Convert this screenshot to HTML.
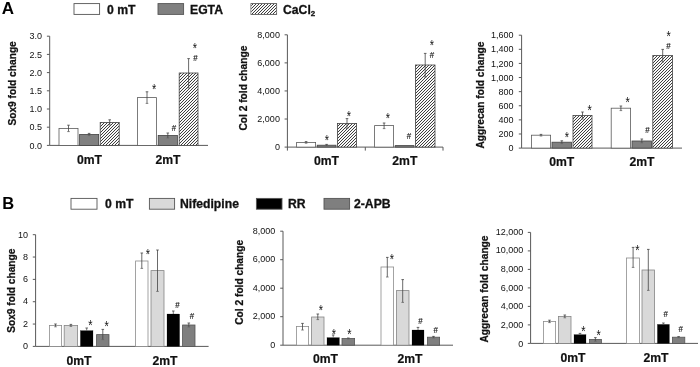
<!DOCTYPE html>
<html><head><meta charset="utf-8"><title>Figure</title>
<style>html,body{margin:0;padding:0;background:#fff}svg{display:block;opacity:0.999;will-change:transform}text{font-family:'Liberation Sans', Arial, sans-serif}</style>
</head><body>
<svg width="700" height="367" viewBox="0 0 700 367">
<defs><pattern id="hatch" x="0" y="0" width="3" height="3" patternUnits="userSpaceOnUse"><rect width="3" height="3" fill="#f8f8f8"/><rect x="1" y="0" width="1" height="1" fill="#3e3e3e"/><rect x="0" y="1" width="1" height="1" fill="#3e3e3e"/><rect x="2" y="2" width="1" height="1" fill="#3e3e3e"/></pattern></defs>
<rect width="700" height="367" fill="#fff"/>
<text x="1.8" y="14" font-size="17" font-weight="bold" fill="#000">A</text>
<text x="2.2" y="209" font-size="16.5" font-weight="bold" fill="#000">B</text>
<rect x="74" y="3.6" width="25.60" height="10.80" fill="#ffffff" stroke="#555" stroke-width="0.9"/>
<text x="107.00" y="13.60" font-size="12.2" font-weight="bold" stroke="#111" stroke-width="0.3" text-anchor="start" fill="#111">0 mT</text>
<rect x="158" y="3.6" width="25.60" height="10.80" fill="#808080" stroke="#555" stroke-width="0.9"/>
<text x="190.00" y="13.60" font-size="12.2" font-weight="bold" stroke="#111" stroke-width="0.3" text-anchor="start" fill="#111">EGTA</text>
<rect x="251" y="3.6" width="25.60" height="10.80" fill="#ffffff" stroke="#555" stroke-width="0.9"/>
<rect x="251.40" y="4.00" width="24.80" height="10.00" fill="url(#hatch)"/>
<text x="283" y="13.6" font-size="12.2" font-weight="bold" stroke="#111" stroke-width="0.3" fill="#111">CaCl<tspan font-size="8" dy="2.6">2</tspan></text>
<rect x="71" y="198.4" width="26.00" height="10.80" fill="#ffffff" stroke="#555" stroke-width="0.9"/>
<text x="105.00" y="208.40" font-size="12.2" font-weight="bold" stroke="#111" stroke-width="0.3" text-anchor="start" fill="#111">0 mT</text>
<rect x="149.4" y="198.4" width="25.20" height="10.80" fill="#d9d9d9" stroke="#555" stroke-width="0.9"/>
<text x="180.00" y="208.40" font-size="12.2" font-weight="bold" stroke="#111" stroke-width="0.3" text-anchor="start" fill="#111">Nifedipine</text>
<rect x="256.4" y="198.4" width="25.60" height="10.80" fill="#000000" stroke="#555" stroke-width="0.9"/>
<text x="288.00" y="208.40" font-size="12.2" font-weight="bold" stroke="#111" stroke-width="0.3" text-anchor="start" fill="#111">RR</text>
<rect x="324" y="198.4" width="25.60" height="10.80" fill="#7f7f7f" stroke="#555" stroke-width="0.9"/>
<text x="354.00" y="208.40" font-size="12.2" font-weight="bold" stroke="#111" stroke-width="0.3" text-anchor="start" fill="#111">2-APB</text>
<line x1="49.70" y1="36.20" x2="49.70" y2="145.40" stroke="#595959" stroke-width="1.0"/>
<line x1="49.70" y1="145.40" x2="208.00" y2="145.40" stroke="#595959" stroke-width="1.0"/>
<line x1="46.90" y1="145.40" x2="49.70" y2="145.40" stroke="#595959" stroke-width="1.0"/>
<text x="41.90" y="148.55" font-size="9.0" text-anchor="end" fill="#111">0.0</text>
<line x1="46.90" y1="127.20" x2="49.70" y2="127.20" stroke="#595959" stroke-width="1.0"/>
<text x="41.90" y="130.35" font-size="9.0" text-anchor="end" fill="#111">0.5</text>
<line x1="46.90" y1="109.00" x2="49.70" y2="109.00" stroke="#595959" stroke-width="1.0"/>
<text x="41.90" y="112.15" font-size="9.0" text-anchor="end" fill="#111">1.0</text>
<line x1="46.90" y1="90.80" x2="49.70" y2="90.80" stroke="#595959" stroke-width="1.0"/>
<text x="41.90" y="93.95" font-size="9.0" text-anchor="end" fill="#111">1.5</text>
<line x1="46.90" y1="72.60" x2="49.70" y2="72.60" stroke="#595959" stroke-width="1.0"/>
<text x="41.90" y="75.75" font-size="9.0" text-anchor="end" fill="#111">2.0</text>
<line x1="46.90" y1="54.40" x2="49.70" y2="54.40" stroke="#595959" stroke-width="1.0"/>
<text x="41.90" y="57.55" font-size="9.0" text-anchor="end" fill="#111">2.5</text>
<line x1="46.90" y1="36.20" x2="49.70" y2="36.20" stroke="#595959" stroke-width="1.0"/>
<text x="41.90" y="39.35" font-size="9.0" text-anchor="end" fill="#111">3.0</text>
<text transform="translate(16.10,83.40) rotate(-90)" font-size="10.2" font-weight="bold" stroke="#111" stroke-width="0.25" text-anchor="middle" fill="#111">Sox9 fold change</text>
<rect x="59.00" y="128.40" width="19.00" height="17.00" fill="#ffffff" stroke="#5a5a5a" stroke-width="0.8"/>
<line x1="68.50" y1="125.20" x2="68.50" y2="131.60" stroke="#444" stroke-width="0.8"/>
<line x1="67.20" y1="125.20" x2="69.80" y2="125.20" stroke="#444" stroke-width="0.8"/>
<line x1="67.20" y1="131.60" x2="69.80" y2="131.60" stroke="#666" stroke-width="0.8"/>
<rect x="79.60" y="134.40" width="19.00" height="11.00" fill="#808080" stroke="#444" stroke-width="0.8"/>
<line x1="89.10" y1="133.40" x2="89.10" y2="135.60" stroke="#444" stroke-width="0.8"/>
<line x1="87.80" y1="133.40" x2="90.40" y2="133.40" stroke="#444" stroke-width="0.8"/>
<line x1="87.80" y1="135.60" x2="90.40" y2="135.60" stroke="#666" stroke-width="0.8"/>
<rect x="100.20" y="122.40" width="19.00" height="23.00" fill="#fff"/>
<rect x="100.20" y="122.40" width="19.00" height="23.00" fill="url(#hatch)"/>
<rect x="100.20" y="122.40" width="19.00" height="23.00" fill="none" stroke="#444" stroke-width="0.8"/>
<line x1="109.70" y1="119.80" x2="109.70" y2="125.00" stroke="#444" stroke-width="0.8"/>
<line x1="108.40" y1="119.80" x2="111.00" y2="119.80" stroke="#444" stroke-width="0.8"/>
<line x1="108.40" y1="125.00" x2="111.00" y2="125.00" stroke="#666" stroke-width="0.8"/>
<rect x="137.40" y="97.60" width="19.20" height="47.80" fill="#ffffff" stroke="#5a5a5a" stroke-width="0.8"/>
<line x1="147.00" y1="91.80" x2="147.00" y2="103.40" stroke="#444" stroke-width="0.8"/>
<line x1="145.70" y1="91.80" x2="148.30" y2="91.80" stroke="#444" stroke-width="0.8"/>
<line x1="145.70" y1="103.40" x2="148.30" y2="103.40" stroke="#666" stroke-width="0.8"/>
<rect x="158.20" y="135.40" width="19.20" height="10.00" fill="#808080" stroke="#444" stroke-width="0.8"/>
<line x1="167.80" y1="133.00" x2="167.80" y2="138.00" stroke="#444" stroke-width="0.8"/>
<line x1="166.50" y1="133.00" x2="169.10" y2="133.00" stroke="#444" stroke-width="0.8"/>
<line x1="166.50" y1="138.00" x2="169.10" y2="138.00" stroke="#666" stroke-width="0.8"/>
<rect x="179.20" y="73.00" width="18.80" height="72.40" fill="#fff"/>
<rect x="179.20" y="73.00" width="18.80" height="72.40" fill="url(#hatch)"/>
<rect x="179.20" y="73.00" width="18.80" height="72.40" fill="none" stroke="#444" stroke-width="0.8"/>
<line x1="188.60" y1="58.60" x2="188.60" y2="88.00" stroke="#444" stroke-width="0.8"/>
<line x1="187.30" y1="58.60" x2="189.90" y2="58.60" stroke="#444" stroke-width="0.8"/>
<line x1="187.30" y1="88.00" x2="189.90" y2="88.00" stroke="#666" stroke-width="0.8"/>
<text transform="translate(154.20,86.50) scale(1,1.25)" y="5.64" font-size="11" text-anchor="middle" fill="#111">*</text>
<text transform="translate(174.00,127.60) scale(0.9,1.12)" y="3.0" font-size="8.8" text-anchor="middle" fill="#111" stroke="#111" stroke-width="0.15">#</text>
<text transform="translate(195.00,45.50) scale(1,1.25)" y="5.64" font-size="11" text-anchor="middle" fill="#111">*</text>
<text transform="translate(195.50,57.40) scale(0.9,1.12)" y="3.0" font-size="8.8" text-anchor="middle" fill="#111" stroke="#111" stroke-width="0.15">#</text>
<text x="89.50" y="164.00" font-size="12.2" font-weight="bold" stroke="#111" stroke-width="0.2" text-anchor="middle" fill="#111">0mT</text>
<text x="168.00" y="164.00" font-size="12.2" font-weight="bold" stroke="#111" stroke-width="0.2" text-anchor="middle" fill="#111">2mT</text>
<line x1="287.40" y1="34.80" x2="287.40" y2="150.60" stroke="#595959" stroke-width="1.0"/>
<line x1="287.40" y1="147.10" x2="443.00" y2="147.10" stroke="#595959" stroke-width="1.0"/>
<line x1="284.60" y1="147.10" x2="287.40" y2="147.10" stroke="#595959" stroke-width="1.0"/>
<text x="279.90" y="150.25" font-size="9.0" text-anchor="end" fill="#111">0</text>
<line x1="284.60" y1="119.02" x2="287.40" y2="119.02" stroke="#595959" stroke-width="1.0"/>
<text x="279.90" y="122.17" font-size="9.0" text-anchor="end" fill="#111">2,000</text>
<line x1="284.60" y1="90.95" x2="287.40" y2="90.95" stroke="#595959" stroke-width="1.0"/>
<text x="279.90" y="94.10" font-size="9.0" text-anchor="end" fill="#111">4,000</text>
<line x1="284.60" y1="62.88" x2="287.40" y2="62.88" stroke="#595959" stroke-width="1.0"/>
<text x="279.90" y="66.03" font-size="9.0" text-anchor="end" fill="#111">6,000</text>
<line x1="284.60" y1="34.80" x2="287.40" y2="34.80" stroke="#595959" stroke-width="1.0"/>
<text x="279.90" y="37.95" font-size="9.0" text-anchor="end" fill="#111">8,000</text>
<line x1="365.30" y1="147.10" x2="365.30" y2="150.60" stroke="#595959" stroke-width="1.0"/>
<line x1="443.00" y1="147.10" x2="443.00" y2="150.60" stroke="#595959" stroke-width="1.0"/>
<text transform="translate(246.60,88.10) rotate(-90)" font-size="10.2" font-weight="bold" stroke="#111" stroke-width="0.25" text-anchor="middle" fill="#111">Col 2 fold change</text>
<rect x="296.60" y="142.40" width="19.00" height="4.70" fill="#ffffff" stroke="#5a5a5a" stroke-width="0.8"/>
<line x1="306.10" y1="141.60" x2="306.10" y2="143.20" stroke="#444" stroke-width="0.8"/>
<line x1="304.80" y1="141.60" x2="307.40" y2="141.60" stroke="#444" stroke-width="0.8"/>
<line x1="304.80" y1="143.20" x2="307.40" y2="143.20" stroke="#666" stroke-width="0.8"/>
<rect x="317.20" y="145.20" width="18.80" height="1.90" fill="#808080" stroke="#444" stroke-width="0.8"/>
<line x1="326.60" y1="144.40" x2="326.60" y2="146.00" stroke="#444" stroke-width="0.8"/>
<line x1="325.30" y1="144.40" x2="327.90" y2="144.40" stroke="#444" stroke-width="0.8"/>
<line x1="325.30" y1="146.00" x2="327.90" y2="146.00" stroke="#666" stroke-width="0.8"/>
<rect x="337.40" y="123.40" width="19.20" height="23.70" fill="#fff"/>
<rect x="337.40" y="123.40" width="19.20" height="23.70" fill="url(#hatch)"/>
<rect x="337.40" y="123.40" width="19.20" height="23.70" fill="none" stroke="#444" stroke-width="0.8"/>
<line x1="347.00" y1="118.60" x2="347.00" y2="128.40" stroke="#444" stroke-width="0.8"/>
<line x1="345.70" y1="118.60" x2="348.30" y2="118.60" stroke="#444" stroke-width="0.8"/>
<line x1="345.70" y1="128.40" x2="348.30" y2="128.40" stroke="#666" stroke-width="0.8"/>
<rect x="374.60" y="125.60" width="19.00" height="21.50" fill="#ffffff" stroke="#5a5a5a" stroke-width="0.8"/>
<line x1="384.10" y1="123.00" x2="384.10" y2="128.60" stroke="#444" stroke-width="0.8"/>
<line x1="382.80" y1="123.00" x2="385.40" y2="123.00" stroke="#444" stroke-width="0.8"/>
<line x1="382.80" y1="128.60" x2="385.40" y2="128.60" stroke="#666" stroke-width="0.8"/>
<rect x="395.20" y="145.60" width="18.80" height="1.50" fill="#808080" stroke="#444" stroke-width="0.8"/>
<rect x="415.40" y="65.00" width="19.60" height="82.10" fill="#fff"/>
<rect x="415.40" y="65.00" width="19.60" height="82.10" fill="url(#hatch)"/>
<rect x="415.40" y="65.00" width="19.60" height="82.10" fill="none" stroke="#444" stroke-width="0.8"/>
<line x1="425.20" y1="53.40" x2="425.20" y2="77.00" stroke="#444" stroke-width="0.8"/>
<line x1="423.90" y1="53.40" x2="426.50" y2="53.40" stroke="#444" stroke-width="0.8"/>
<line x1="423.90" y1="77.00" x2="426.50" y2="77.00" stroke="#666" stroke-width="0.8"/>
<text transform="translate(327.00,137.50) scale(1,1.25)" y="5.64" font-size="11" text-anchor="middle" fill="#111">*</text>
<text transform="translate(349.00,113.50) scale(1,1.25)" y="5.64" font-size="11" text-anchor="middle" fill="#111">*</text>
<text transform="translate(387.80,116.00) scale(1,1.25)" y="5.64" font-size="11" text-anchor="middle" fill="#111">*</text>
<text transform="translate(409.00,135.60) scale(0.9,1.12)" y="3.0" font-size="8.8" text-anchor="middle" fill="#111" stroke="#111" stroke-width="0.15">#</text>
<text transform="translate(431.80,42.80) scale(1,1.25)" y="5.64" font-size="11" text-anchor="middle" fill="#111">*</text>
<text transform="translate(432.00,54.40) scale(0.9,1.12)" y="3.0" font-size="8.8" text-anchor="middle" fill="#111" stroke="#111" stroke-width="0.15">#</text>
<text x="326.50" y="165.00" font-size="12.2" font-weight="bold" stroke="#111" stroke-width="0.2" text-anchor="middle" fill="#111">0mT</text>
<text x="404.80" y="165.00" font-size="12.2" font-weight="bold" stroke="#111" stroke-width="0.2" text-anchor="middle" fill="#111">2mT</text>
<line x1="521.60" y1="35.20" x2="521.60" y2="148.10" stroke="#595959" stroke-width="1.0"/>
<line x1="521.60" y1="148.10" x2="682.00" y2="148.10" stroke="#595959" stroke-width="1.0"/>
<line x1="518.80" y1="148.10" x2="521.60" y2="148.10" stroke="#595959" stroke-width="1.0"/>
<text x="513.50" y="151.25" font-size="9.0" text-anchor="end" fill="#111">0</text>
<line x1="518.80" y1="133.99" x2="521.60" y2="133.99" stroke="#595959" stroke-width="1.0"/>
<text x="513.50" y="137.14" font-size="9.0" text-anchor="end" fill="#111">200</text>
<line x1="518.80" y1="119.88" x2="521.60" y2="119.88" stroke="#595959" stroke-width="1.0"/>
<text x="513.50" y="123.03" font-size="9.0" text-anchor="end" fill="#111">400</text>
<line x1="518.80" y1="105.76" x2="521.60" y2="105.76" stroke="#595959" stroke-width="1.0"/>
<text x="513.50" y="108.91" font-size="9.0" text-anchor="end" fill="#111">600</text>
<line x1="518.80" y1="91.65" x2="521.60" y2="91.65" stroke="#595959" stroke-width="1.0"/>
<text x="513.50" y="94.80" font-size="9.0" text-anchor="end" fill="#111">800</text>
<line x1="518.80" y1="77.54" x2="521.60" y2="77.54" stroke="#595959" stroke-width="1.0"/>
<text x="513.50" y="80.69" font-size="9.0" text-anchor="end" fill="#111">1,000</text>
<line x1="518.80" y1="63.42" x2="521.60" y2="63.42" stroke="#595959" stroke-width="1.0"/>
<text x="513.50" y="66.58" font-size="9.0" text-anchor="end" fill="#111">1,200</text>
<line x1="518.80" y1="49.31" x2="521.60" y2="49.31" stroke="#595959" stroke-width="1.0"/>
<text x="513.50" y="52.46" font-size="9.0" text-anchor="end" fill="#111">1,400</text>
<line x1="518.80" y1="35.20" x2="521.60" y2="35.20" stroke="#595959" stroke-width="1.0"/>
<text x="513.50" y="38.35" font-size="9.0" text-anchor="end" fill="#111">1,600</text>
<text transform="translate(484.30,95.00) rotate(-90)" font-size="10.2" font-weight="bold" stroke="#111" stroke-width="0.25" text-anchor="middle" fill="#111">Aggrecan fold change</text>
<rect x="531.40" y="135.20" width="19.20" height="12.90" fill="#ffffff" stroke="#5a5a5a" stroke-width="0.8"/>
<line x1="541.00" y1="134.40" x2="541.00" y2="136.00" stroke="#444" stroke-width="0.8"/>
<line x1="539.70" y1="134.40" x2="542.30" y2="134.40" stroke="#444" stroke-width="0.8"/>
<line x1="539.70" y1="136.00" x2="542.30" y2="136.00" stroke="#666" stroke-width="0.8"/>
<rect x="552.00" y="142.20" width="19.60" height="5.90" fill="#808080" stroke="#444" stroke-width="0.8"/>
<line x1="561.80" y1="140.80" x2="561.80" y2="143.60" stroke="#444" stroke-width="0.8"/>
<line x1="560.50" y1="140.80" x2="563.10" y2="140.80" stroke="#444" stroke-width="0.8"/>
<line x1="560.50" y1="143.60" x2="563.10" y2="143.60" stroke="#666" stroke-width="0.8"/>
<rect x="573.00" y="115.40" width="19.00" height="32.70" fill="#fff"/>
<rect x="573.00" y="115.40" width="19.00" height="32.70" fill="url(#hatch)"/>
<rect x="573.00" y="115.40" width="19.00" height="32.70" fill="none" stroke="#444" stroke-width="0.8"/>
<line x1="582.50" y1="112.00" x2="582.50" y2="119.00" stroke="#444" stroke-width="0.8"/>
<line x1="581.20" y1="112.00" x2="583.80" y2="112.00" stroke="#444" stroke-width="0.8"/>
<line x1="581.20" y1="119.00" x2="583.80" y2="119.00" stroke="#666" stroke-width="0.8"/>
<rect x="611.20" y="108.20" width="19.40" height="39.90" fill="#ffffff" stroke="#5a5a5a" stroke-width="0.8"/>
<line x1="620.90" y1="106.00" x2="620.90" y2="110.60" stroke="#444" stroke-width="0.8"/>
<line x1="619.60" y1="106.00" x2="622.20" y2="106.00" stroke="#444" stroke-width="0.8"/>
<line x1="619.60" y1="110.60" x2="622.20" y2="110.60" stroke="#666" stroke-width="0.8"/>
<rect x="632.00" y="141.00" width="19.60" height="7.10" fill="#808080" stroke="#444" stroke-width="0.8"/>
<line x1="641.80" y1="139.00" x2="641.80" y2="142.80" stroke="#444" stroke-width="0.8"/>
<line x1="640.50" y1="139.00" x2="643.10" y2="139.00" stroke="#444" stroke-width="0.8"/>
<line x1="640.50" y1="142.80" x2="643.10" y2="142.80" stroke="#666" stroke-width="0.8"/>
<rect x="652.80" y="55.40" width="19.80" height="92.70" fill="#fff"/>
<rect x="652.80" y="55.40" width="19.80" height="92.70" fill="url(#hatch)"/>
<rect x="652.80" y="55.40" width="19.80" height="92.70" fill="none" stroke="#444" stroke-width="0.8"/>
<line x1="662.70" y1="49.40" x2="662.70" y2="62.00" stroke="#444" stroke-width="0.8"/>
<line x1="661.40" y1="49.40" x2="664.00" y2="49.40" stroke="#444" stroke-width="0.8"/>
<line x1="661.40" y1="62.00" x2="664.00" y2="62.00" stroke="#666" stroke-width="0.8"/>
<text transform="translate(567.00,135.00) scale(1,1.25)" y="5.64" font-size="11" text-anchor="middle" fill="#111">*</text>
<text transform="translate(589.60,108.00) scale(1,1.25)" y="5.64" font-size="11" text-anchor="middle" fill="#111">*</text>
<text transform="translate(627.60,100.40) scale(1,1.25)" y="5.64" font-size="11" text-anchor="middle" fill="#111">*</text>
<text transform="translate(647.50,130.10) scale(0.9,1.12)" y="3.0" font-size="8.8" text-anchor="middle" fill="#111" stroke="#111" stroke-width="0.15">#</text>
<text transform="translate(668.60,34.20) scale(1,1.25)" y="5.64" font-size="11" text-anchor="middle" fill="#111">*</text>
<text transform="translate(668.50,45.60) scale(0.9,1.12)" y="3.0" font-size="8.8" text-anchor="middle" fill="#111" stroke="#111" stroke-width="0.15">#</text>
<text x="561.70" y="166.00" font-size="12.2" font-weight="bold" stroke="#111" stroke-width="0.2" text-anchor="middle" fill="#111">0mT</text>
<text x="642.00" y="166.00" font-size="12.2" font-weight="bold" stroke="#111" stroke-width="0.2" text-anchor="middle" fill="#111">2mT</text>
<line x1="35.60" y1="234.70" x2="35.60" y2="346.40" stroke="#595959" stroke-width="1.0"/>
<line x1="35.60" y1="346.40" x2="208.60" y2="346.40" stroke="#595959" stroke-width="1.0"/>
<line x1="32.80" y1="346.40" x2="35.60" y2="346.40" stroke="#595959" stroke-width="1.0"/>
<text x="27.90" y="348.95" font-size="9.0" text-anchor="end" fill="#111">0</text>
<line x1="32.80" y1="324.06" x2="35.60" y2="324.06" stroke="#595959" stroke-width="1.0"/>
<text x="27.90" y="326.67" font-size="9.0" text-anchor="end" fill="#111">2</text>
<line x1="32.80" y1="301.72" x2="35.60" y2="301.72" stroke="#595959" stroke-width="1.0"/>
<text x="27.90" y="304.39" font-size="9.0" text-anchor="end" fill="#111">4</text>
<line x1="32.80" y1="279.38" x2="35.60" y2="279.38" stroke="#595959" stroke-width="1.0"/>
<text x="27.90" y="282.11" font-size="9.0" text-anchor="end" fill="#111">6</text>
<line x1="32.80" y1="257.04" x2="35.60" y2="257.04" stroke="#595959" stroke-width="1.0"/>
<text x="27.90" y="259.83" font-size="9.0" text-anchor="end" fill="#111">8</text>
<line x1="32.80" y1="234.70" x2="35.60" y2="234.70" stroke="#595959" stroke-width="1.0"/>
<text x="27.90" y="237.55" font-size="9.0" text-anchor="end" fill="#111">10</text>
<text transform="translate(14.60,290.70) rotate(-90)" font-size="10.2" font-weight="bold" stroke="#111" stroke-width="0.25" text-anchor="middle" fill="#111">Sox9 fold change</text>
<rect x="49.40" y="325.40" width="12.20" height="21.00" fill="#ffffff" stroke="#8c8c8c" stroke-width="0.8"/>
<line x1="55.50" y1="324.00" x2="55.50" y2="326.80" stroke="#444" stroke-width="0.8"/>
<line x1="54.20" y1="324.00" x2="56.80" y2="324.00" stroke="#444" stroke-width="0.8"/>
<line x1="54.20" y1="326.80" x2="56.80" y2="326.80" stroke="#666" stroke-width="0.8"/>
<rect x="64.20" y="325.40" width="13.40" height="21.00" fill="#d9d9d9" stroke="#858585" stroke-width="0.8"/>
<line x1="70.90" y1="324.40" x2="70.90" y2="326.40" stroke="#444" stroke-width="0.8"/>
<line x1="69.60" y1="324.40" x2="72.20" y2="324.40" stroke="#444" stroke-width="0.8"/>
<line x1="69.60" y1="326.40" x2="72.20" y2="326.40" stroke="#666" stroke-width="0.8"/>
<rect x="80.40" y="330.60" width="12.60" height="15.80" fill="#000000" stroke="#000" stroke-width="0.2"/>
<line x1="86.70" y1="328.00" x2="86.70" y2="330.60" stroke="#555" stroke-width="0.8"/>
<line x1="85.40" y1="328.00" x2="88.00" y2="328.00" stroke="#444" stroke-width="0.8"/>
<line x1="85.40" y1="333.00" x2="88.00" y2="333.00" stroke="#000" stroke-width="0.8"/>
<rect x="96.60" y="334.60" width="12.40" height="11.80" fill="#7f7f7f" stroke="#555" stroke-width="0.8"/>
<line x1="102.80" y1="329.40" x2="102.80" y2="339.60" stroke="#444" stroke-width="0.8"/>
<line x1="101.50" y1="329.40" x2="104.10" y2="329.40" stroke="#444" stroke-width="0.8"/>
<line x1="101.50" y1="339.60" x2="104.10" y2="339.60" stroke="#666" stroke-width="0.8"/>
<rect x="135.60" y="261.00" width="12.40" height="85.40" fill="#ffffff" stroke="#8c8c8c" stroke-width="0.8"/>
<line x1="141.80" y1="253.00" x2="141.80" y2="268.40" stroke="#444" stroke-width="0.8"/>
<line x1="140.50" y1="253.00" x2="143.10" y2="253.00" stroke="#444" stroke-width="0.8"/>
<line x1="140.50" y1="268.40" x2="143.10" y2="268.40" stroke="#666" stroke-width="0.8"/>
<rect x="151.00" y="270.60" width="13.00" height="75.80" fill="#d9d9d9" stroke="#858585" stroke-width="0.8"/>
<line x1="157.50" y1="250.00" x2="157.50" y2="291.40" stroke="#444" stroke-width="0.8"/>
<line x1="156.20" y1="250.00" x2="158.80" y2="250.00" stroke="#444" stroke-width="0.8"/>
<line x1="156.20" y1="291.40" x2="158.80" y2="291.40" stroke="#666" stroke-width="0.8"/>
<rect x="167.00" y="314.00" width="12.60" height="32.40" fill="#000000" stroke="#000" stroke-width="0.2"/>
<line x1="173.30" y1="311.00" x2="173.30" y2="314.00" stroke="#555" stroke-width="0.8"/>
<line x1="172.00" y1="311.00" x2="174.60" y2="311.00" stroke="#444" stroke-width="0.8"/>
<line x1="172.00" y1="317.00" x2="174.60" y2="317.00" stroke="#000" stroke-width="0.8"/>
<rect x="182.60" y="325.00" width="12.40" height="21.40" fill="#7f7f7f" stroke="#555" stroke-width="0.8"/>
<line x1="188.80" y1="323.00" x2="188.80" y2="327.00" stroke="#444" stroke-width="0.8"/>
<line x1="187.50" y1="323.00" x2="190.10" y2="323.00" stroke="#444" stroke-width="0.8"/>
<line x1="187.50" y1="327.00" x2="190.10" y2="327.00" stroke="#666" stroke-width="0.8"/>
<text transform="translate(90.50,323.00) scale(1,1.25)" y="5.64" font-size="11" text-anchor="middle" fill="#111">*</text>
<text transform="translate(106.60,324.00) scale(1,1.25)" y="5.64" font-size="11" text-anchor="middle" fill="#111">*</text>
<text transform="translate(148.00,252.00) scale(1,1.25)" y="5.64" font-size="11" text-anchor="middle" fill="#111">*</text>
<text transform="translate(177.50,304.60) scale(0.9,1.12)" y="3.0" font-size="8.8" text-anchor="middle" fill="#111" stroke="#111" stroke-width="0.15">#</text>
<text transform="translate(192.00,316.10) scale(0.9,1.12)" y="3.0" font-size="8.8" text-anchor="middle" fill="#111" stroke="#111" stroke-width="0.15">#</text>
<text x="79.00" y="365.00" font-size="12.2" font-weight="bold" stroke="#111" stroke-width="0.2" text-anchor="middle" fill="#111">0mT</text>
<text x="165.00" y="365.00" font-size="12.2" font-weight="bold" stroke="#111" stroke-width="0.2" text-anchor="middle" fill="#111">2mT</text>
<line x1="283.00" y1="231.20" x2="283.00" y2="345.20" stroke="#595959" stroke-width="1.0"/>
<line x1="283.00" y1="345.20" x2="453.00" y2="345.20" stroke="#595959" stroke-width="1.0"/>
<line x1="280.20" y1="345.20" x2="283.00" y2="345.20" stroke="#595959" stroke-width="1.0"/>
<text x="275.30" y="347.85" font-size="9.0" text-anchor="end" fill="#111">0</text>
<line x1="280.20" y1="316.70" x2="283.00" y2="316.70" stroke="#595959" stroke-width="1.0"/>
<text x="275.30" y="319.35" font-size="9.0" text-anchor="end" fill="#111">2,000</text>
<line x1="280.20" y1="288.20" x2="283.00" y2="288.20" stroke="#595959" stroke-width="1.0"/>
<text x="275.30" y="290.85" font-size="9.0" text-anchor="end" fill="#111">4,000</text>
<line x1="280.20" y1="259.70" x2="283.00" y2="259.70" stroke="#595959" stroke-width="1.0"/>
<text x="275.30" y="262.35" font-size="9.0" text-anchor="end" fill="#111">6,000</text>
<line x1="280.20" y1="231.20" x2="283.00" y2="231.20" stroke="#595959" stroke-width="1.0"/>
<text x="275.30" y="233.85" font-size="9.0" text-anchor="end" fill="#111">8,000</text>
<text transform="translate(243.30,282.30) rotate(-90)" font-size="10.2" font-weight="bold" stroke="#111" stroke-width="0.25" text-anchor="middle" fill="#111">Col 2 fold change</text>
<rect x="296.40" y="326.40" width="12.20" height="18.80" fill="#ffffff" stroke="#8c8c8c" stroke-width="0.8"/>
<line x1="302.50" y1="323.40" x2="302.50" y2="330.00" stroke="#444" stroke-width="0.8"/>
<line x1="301.20" y1="323.40" x2="303.80" y2="323.40" stroke="#444" stroke-width="0.8"/>
<line x1="301.20" y1="330.00" x2="303.80" y2="330.00" stroke="#666" stroke-width="0.8"/>
<rect x="311.60" y="317.00" width="12.40" height="28.20" fill="#d9d9d9" stroke="#858585" stroke-width="0.8"/>
<line x1="317.80" y1="314.00" x2="317.80" y2="319.60" stroke="#444" stroke-width="0.8"/>
<line x1="316.50" y1="314.00" x2="319.10" y2="314.00" stroke="#444" stroke-width="0.8"/>
<line x1="316.50" y1="319.60" x2="319.10" y2="319.60" stroke="#666" stroke-width="0.8"/>
<rect x="327.00" y="337.60" width="12.40" height="7.60" fill="#000000" stroke="#000" stroke-width="0.2"/>
<line x1="333.20" y1="335.00" x2="333.20" y2="337.60" stroke="#555" stroke-width="0.8"/>
<line x1="331.90" y1="335.00" x2="334.50" y2="335.00" stroke="#444" stroke-width="0.8"/>
<line x1="331.90" y1="340.00" x2="334.50" y2="340.00" stroke="#000" stroke-width="0.8"/>
<rect x="342.00" y="338.40" width="12.60" height="6.80" fill="#7f7f7f" stroke="#555" stroke-width="0.8"/>
<line x1="348.30" y1="338.00" x2="348.30" y2="339.00" stroke="#444" stroke-width="0.8"/>
<line x1="347.00" y1="338.00" x2="349.60" y2="338.00" stroke="#444" stroke-width="0.8"/>
<line x1="347.00" y1="339.00" x2="349.60" y2="339.00" stroke="#666" stroke-width="0.8"/>
<rect x="381.00" y="267.00" width="12.60" height="78.20" fill="#ffffff" stroke="#8c8c8c" stroke-width="0.8"/>
<line x1="387.30" y1="257.40" x2="387.30" y2="277.00" stroke="#444" stroke-width="0.8"/>
<line x1="386.00" y1="257.40" x2="388.60" y2="257.40" stroke="#444" stroke-width="0.8"/>
<line x1="386.00" y1="277.00" x2="388.60" y2="277.00" stroke="#666" stroke-width="0.8"/>
<rect x="396.40" y="290.60" width="12.60" height="54.60" fill="#d9d9d9" stroke="#858585" stroke-width="0.8"/>
<line x1="402.70" y1="279.60" x2="402.70" y2="302.40" stroke="#444" stroke-width="0.8"/>
<line x1="401.40" y1="279.60" x2="404.00" y2="279.60" stroke="#444" stroke-width="0.8"/>
<line x1="401.40" y1="302.40" x2="404.00" y2="302.40" stroke="#666" stroke-width="0.8"/>
<rect x="412.00" y="330.00" width="12.00" height="15.20" fill="#000000" stroke="#000" stroke-width="0.2"/>
<line x1="418.00" y1="327.40" x2="418.00" y2="330.00" stroke="#555" stroke-width="0.8"/>
<line x1="416.70" y1="327.40" x2="419.30" y2="327.40" stroke="#444" stroke-width="0.8"/>
<line x1="416.70" y1="332.60" x2="419.30" y2="332.60" stroke="#000" stroke-width="0.8"/>
<rect x="427.40" y="337.20" width="12.20" height="8.00" fill="#7f7f7f" stroke="#555" stroke-width="0.8"/>
<line x1="433.50" y1="336.40" x2="433.50" y2="338.00" stroke="#444" stroke-width="0.8"/>
<line x1="432.20" y1="336.40" x2="434.80" y2="336.40" stroke="#444" stroke-width="0.8"/>
<line x1="432.20" y1="338.00" x2="434.80" y2="338.00" stroke="#666" stroke-width="0.8"/>
<text transform="translate(321.00,308.40) scale(1,1.25)" y="5.64" font-size="11" text-anchor="middle" fill="#111">*</text>
<text transform="translate(334.00,331.60) scale(1,1.25)" y="5.64" font-size="11" text-anchor="middle" fill="#111">*</text>
<text transform="translate(349.40,332.00) scale(1,1.25)" y="5.64" font-size="11" text-anchor="middle" fill="#111">*</text>
<text transform="translate(392.00,257.00) scale(1,1.25)" y="5.64" font-size="11" text-anchor="middle" fill="#111">*</text>
<text transform="translate(420.40,320.20) scale(0.9,1.12)" y="3.0" font-size="8.8" text-anchor="middle" fill="#111" stroke="#111" stroke-width="0.15">#</text>
<text transform="translate(435.60,329.20) scale(0.9,1.12)" y="3.0" font-size="8.8" text-anchor="middle" fill="#111" stroke="#111" stroke-width="0.15">#</text>
<text x="325.50" y="363.00" font-size="12.2" font-weight="bold" stroke="#111" stroke-width="0.2" text-anchor="middle" fill="#111">0mT</text>
<text x="410.00" y="363.00" font-size="12.2" font-weight="bold" stroke="#111" stroke-width="0.2" text-anchor="middle" fill="#111">2mT</text>
<line x1="530.60" y1="232.40" x2="530.60" y2="343.40" stroke="#595959" stroke-width="1.0"/>
<line x1="530.60" y1="343.40" x2="698.00" y2="343.40" stroke="#595959" stroke-width="1.0"/>
<line x1="527.80" y1="343.40" x2="530.60" y2="343.40" stroke="#595959" stroke-width="1.0"/>
<text x="523.30" y="346.75" font-size="9.0" text-anchor="end" fill="#111">0</text>
<line x1="527.80" y1="324.90" x2="530.60" y2="324.90" stroke="#595959" stroke-width="1.0"/>
<text x="523.30" y="328.08" font-size="9.0" text-anchor="end" fill="#111">2,000</text>
<line x1="527.80" y1="306.40" x2="530.60" y2="306.40" stroke="#595959" stroke-width="1.0"/>
<text x="523.30" y="309.42" font-size="9.0" text-anchor="end" fill="#111">4,000</text>
<line x1="527.80" y1="287.90" x2="530.60" y2="287.90" stroke="#595959" stroke-width="1.0"/>
<text x="523.30" y="290.75" font-size="9.0" text-anchor="end" fill="#111">6,000</text>
<line x1="527.80" y1="269.40" x2="530.60" y2="269.40" stroke="#595959" stroke-width="1.0"/>
<text x="523.30" y="272.08" font-size="9.0" text-anchor="end" fill="#111">8,000</text>
<line x1="527.80" y1="250.90" x2="530.60" y2="250.90" stroke="#595959" stroke-width="1.0"/>
<text x="523.30" y="253.42" font-size="9.0" text-anchor="end" fill="#111">10,000</text>
<line x1="527.80" y1="232.40" x2="530.60" y2="232.40" stroke="#595959" stroke-width="1.0"/>
<text x="523.30" y="234.75" font-size="9.0" text-anchor="end" fill="#111">12,000</text>
<text transform="translate(488.00,289.00) rotate(-90)" font-size="10.2" font-weight="bold" stroke="#111" stroke-width="0.25" text-anchor="middle" fill="#111">Aggrecan fold change</text>
<rect x="543.40" y="321.40" width="12.20" height="22.00" fill="#ffffff" stroke="#8c8c8c" stroke-width="0.8"/>
<line x1="549.50" y1="320.20" x2="549.50" y2="322.60" stroke="#444" stroke-width="0.8"/>
<line x1="548.20" y1="320.20" x2="550.80" y2="320.20" stroke="#444" stroke-width="0.8"/>
<line x1="548.20" y1="322.60" x2="550.80" y2="322.60" stroke="#666" stroke-width="0.8"/>
<rect x="558.60" y="316.40" width="12.40" height="27.00" fill="#d9d9d9" stroke="#858585" stroke-width="0.8"/>
<line x1="564.80" y1="315.00" x2="564.80" y2="317.80" stroke="#444" stroke-width="0.8"/>
<line x1="563.50" y1="315.00" x2="566.10" y2="315.00" stroke="#444" stroke-width="0.8"/>
<line x1="563.50" y1="317.80" x2="566.10" y2="317.80" stroke="#666" stroke-width="0.8"/>
<rect x="574.00" y="334.60" width="12.00" height="8.80" fill="#000000" stroke="#000" stroke-width="0.2"/>
<line x1="580.00" y1="333.40" x2="580.00" y2="334.60" stroke="#555" stroke-width="0.8"/>
<line x1="578.70" y1="333.40" x2="581.30" y2="333.40" stroke="#444" stroke-width="0.8"/>
<line x1="578.70" y1="335.80" x2="581.30" y2="335.80" stroke="#000" stroke-width="0.8"/>
<rect x="589.40" y="339.40" width="12.00" height="4.00" fill="#7f7f7f" stroke="#555" stroke-width="0.8"/>
<line x1="595.40" y1="337.60" x2="595.40" y2="341.20" stroke="#444" stroke-width="0.8"/>
<line x1="594.10" y1="337.60" x2="596.70" y2="337.60" stroke="#444" stroke-width="0.8"/>
<line x1="594.10" y1="341.20" x2="596.70" y2="341.20" stroke="#666" stroke-width="0.8"/>
<rect x="626.60" y="258.00" width="13.00" height="85.40" fill="#ffffff" stroke="#8c8c8c" stroke-width="0.8"/>
<line x1="633.10" y1="247.40" x2="633.10" y2="267.40" stroke="#444" stroke-width="0.8"/>
<line x1="631.80" y1="247.40" x2="634.40" y2="247.40" stroke="#444" stroke-width="0.8"/>
<line x1="631.80" y1="267.40" x2="634.40" y2="267.40" stroke="#666" stroke-width="0.8"/>
<rect x="642.00" y="270.00" width="12.60" height="73.40" fill="#d9d9d9" stroke="#858585" stroke-width="0.8"/>
<line x1="648.30" y1="249.40" x2="648.30" y2="290.40" stroke="#444" stroke-width="0.8"/>
<line x1="647.00" y1="249.40" x2="649.60" y2="249.40" stroke="#444" stroke-width="0.8"/>
<line x1="647.00" y1="290.40" x2="649.60" y2="290.40" stroke="#666" stroke-width="0.8"/>
<rect x="657.40" y="324.40" width="12.00" height="19.00" fill="#000000" stroke="#000" stroke-width="0.2"/>
<line x1="663.40" y1="323.00" x2="663.40" y2="324.40" stroke="#555" stroke-width="0.8"/>
<line x1="662.10" y1="323.00" x2="664.70" y2="323.00" stroke="#444" stroke-width="0.8"/>
<line x1="662.10" y1="325.80" x2="664.70" y2="325.80" stroke="#000" stroke-width="0.8"/>
<rect x="672.40" y="337.20" width="12.40" height="6.20" fill="#7f7f7f" stroke="#555" stroke-width="0.8"/>
<line x1="678.60" y1="336.60" x2="678.60" y2="337.80" stroke="#444" stroke-width="0.8"/>
<line x1="677.30" y1="336.60" x2="679.90" y2="336.60" stroke="#444" stroke-width="0.8"/>
<line x1="677.30" y1="337.80" x2="679.90" y2="337.80" stroke="#666" stroke-width="0.8"/>
<text transform="translate(583.40,329.00) scale(1,1.25)" y="5.64" font-size="11" text-anchor="middle" fill="#111">*</text>
<text transform="translate(598.60,333.00) scale(1,1.25)" y="5.64" font-size="11" text-anchor="middle" fill="#111">*</text>
<text transform="translate(637.40,248.00) scale(1,1.25)" y="5.64" font-size="11" text-anchor="middle" fill="#111">*</text>
<text transform="translate(665.60,313.60) scale(0.9,1.12)" y="3.0" font-size="8.8" text-anchor="middle" fill="#111" stroke="#111" stroke-width="0.15">#</text>
<text transform="translate(680.80,329.00) scale(0.9,1.12)" y="3.0" font-size="8.8" text-anchor="middle" fill="#111" stroke="#111" stroke-width="0.15">#</text>
<text x="573.00" y="361.60" font-size="12.2" font-weight="bold" stroke="#111" stroke-width="0.2" text-anchor="middle" fill="#111">0mT</text>
<text x="656.00" y="361.60" font-size="12.2" font-weight="bold" stroke="#111" stroke-width="0.2" text-anchor="middle" fill="#111">2mT</text>
</svg></body></html>
